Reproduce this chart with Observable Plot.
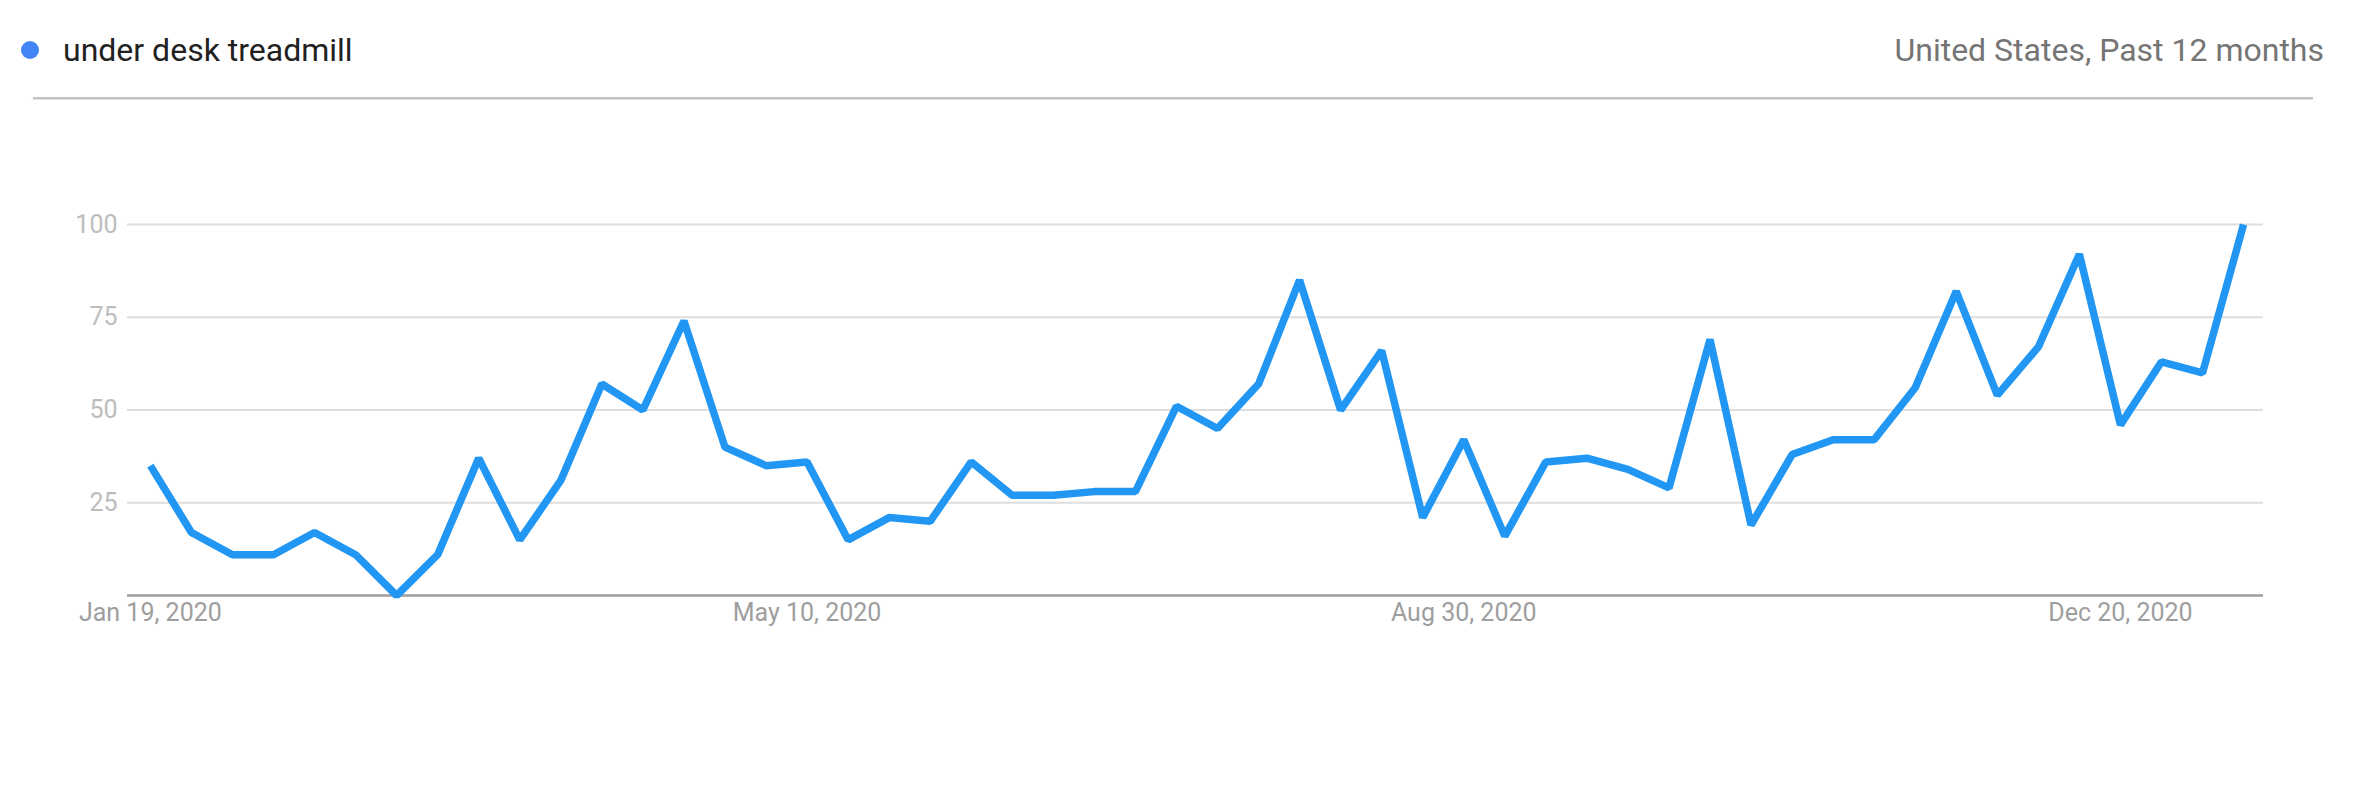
<!DOCTYPE html>
<html><head><meta charset="utf-8">
<script src="https://cdn.jsdelivr.net/npm/d3@7"></script>
<script src="https://cdn.jsdelivr.net/npm/@observablehq/plot@0.6"></script>
<style>
html,body{margin:0;padding:0;background:#fff;}
body{width:2354px;height:794px;position:relative;overflow:hidden;font-family:Roboto,"Noto Sans",sans-serif;}
.dot{position:absolute;left:21px;top:41px;width:18px;height:18px;border-radius:50%;background:#4285f4;}
.term{position:absolute;left:63px;top:32px;font-size:32px;line-height:36px;color:#212121;white-space:nowrap;}
.meta{position:absolute;right:30px;top:32px;font-size:32px;line-height:36px;color:#757575;white-space:nowrap;}
.rule{position:absolute;left:33px;width:2280px;top:97px;height:2px;background:#c4c4c4;box-shadow:0 1px 2px rgba(0,0,0,0.18);}
#chart{position:absolute;left:0;top:100px;}
</style></head><body>
<span class="dot"></span>
<span class="term">under desk treadmill</span>
<span class="meta">United States, Past 12 months</span>
<div class="rule"></div>
<div id="chart"></div>
<script>
// Weekly interest over time, weeks starting Sunday Jan 19, 2020
const firstWeek = "2020-01-19";
const interest = [35, 17, 11, 11, 17, 11, 0, 11, 37, 15,
                  31, 57, 50, 74, 40, 35, 36, 15, 21, 20,
                  36, 27, 27, 28, 28, 51, 45, 57, 85, 50,
                  66, 21, 42, 16, 36, 37, 34, 29, 69, 19,
                  38, 42, 42, 56, 82, 54, 67, 92, 46, 63,
                  60, 100];
const xTickLabels = ["2020-01-19", "2020-05-10", "2020-08-30", "2020-12-20"];
const yTicks = [25, 50, 75, 100];

const start = d3.utcParse("%Y-%m-%d")(firstWeek);
const weeks = interest.map((_, i) => d3.utcWeek.offset(start, i));
const data = interest.map((v, i) => ({date: weeks[i], value: v}));
const xTicks = xTickLabels.map(d3.utcParse("%Y-%m-%d"));
const day = 864e5;
const xDomain = [new Date(+weeks[0] - 3.9 * day), new Date(+weeks[weeks.length - 1] + 3.4 * day)];

const chart = Plot.plot({
  width: 2354,
  height: 694,
  marginLeft: 127,
  marginRight: 91,
  marginTop: 124,
  marginBottom: 199,
  style: {fontFamily: "Roboto, sans-serif", fontSize: "25px", color: "#9e9e9e", background: "#fff"},
  x: {type: "utc", domain: xDomain, ticks: xTicks, tickFormat: d3.utcFormat("%b %-d, %Y"), tickSize: 0, tickPadding: 8, label: null},
  y: {domain: [0, 100], ticks: yTicks, tickSize: 0, tickPadding: 10, label: null},
  marks: [
    Plot.ruleY(yTicks, {stroke: "#dedede", strokeWidth: 2}),
    Plot.ruleY([0], {stroke: "#9e9e9e", strokeWidth: 2.5}),
    Plot.line(data, {x: "date", y: "value", stroke: "#2196f3", strokeWidth: 7.5, strokeLinejoin: "miter", strokeLinecap: "butt"})
  ]
});
d3.select(chart).selectAll('[aria-label="y-axis tick label"]').attr("fill", "#bdbdbd");
document.getElementById("chart").appendChild(chart);
</script>
</body></html>
